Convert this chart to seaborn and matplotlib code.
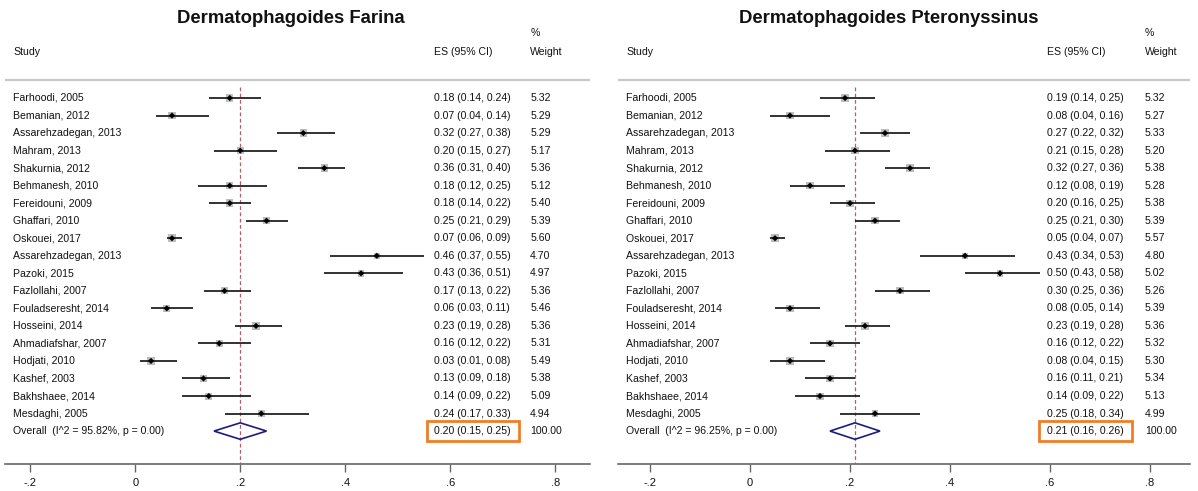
import matplotlib
matplotlib.use("Agg")
import matplotlib.pyplot as plt
import seaborn as sns
import pandas as pd
from matplotlib.patches import Polygon, Rectangle

studies = ["Farhoodi, 2005", "Bemanian, 2012", "Assarehzadegan, 2013", "Mahram, 2013",
           "Shakurnia, 2012", "Behmanesh, 2010", "Fereidouni, 2009", "Ghaffari, 2010",
           "Oskouei, 2017", "Assarehzadegan, 2013", "Pazoki, 2015", "Fazlollahi, 2007",
           "Fouladseresht, 2014", "Hosseini, 2014", "Ahmadiafshar, 2007", "Hodjati, 2010",
           "Kashef, 2003", "Bakhshaee, 2014", "Mesdaghi, 2005"]

far_es = [0.18, 0.07, 0.32, 0.20, 0.36, 0.18, 0.18, 0.25, 0.07, 0.46, 0.43, 0.17, 0.06, 0.23, 0.16, 0.03, 0.13, 0.14, 0.24]
far_lo = [0.14, 0.04, 0.27, 0.15, 0.31, 0.12, 0.14, 0.21, 0.06, 0.37, 0.36, 0.13, 0.03, 0.19, 0.12, 0.01, 0.09, 0.09, 0.17]
far_hi = [0.24, 0.14, 0.38, 0.27, 0.40, 0.25, 0.22, 0.29, 0.09, 0.55, 0.51, 0.22, 0.11, 0.28, 0.22, 0.08, 0.18, 0.22, 0.33]
far_w = [5.32, 5.29, 5.29, 5.17, 5.36, 5.12, 5.40, 5.39, 5.60, 4.70, 4.97, 5.36, 5.46, 5.36, 5.31, 5.49, 5.38, 5.09, 4.94]
far_overall = [0.20, 0.15, 0.25]
far_i2 = "95.82%"

pte_es = [0.19, 0.08, 0.27, 0.21, 0.32, 0.12, 0.20, 0.25, 0.05, 0.43, 0.50, 0.30, 0.08, 0.23, 0.16, 0.08, 0.16, 0.14, 0.25]
pte_lo = [0.14, 0.04, 0.22, 0.15, 0.27, 0.08, 0.16, 0.21, 0.04, 0.34, 0.43, 0.25, 0.05, 0.19, 0.12, 0.04, 0.11, 0.09, 0.18]
pte_hi = [0.25, 0.16, 0.32, 0.28, 0.36, 0.19, 0.25, 0.30, 0.07, 0.53, 0.58, 0.36, 0.14, 0.28, 0.22, 0.15, 0.21, 0.22, 0.34]
pte_w = [5.32, 5.27, 5.33, 5.20, 5.38, 5.28, 5.38, 5.39, 5.57, 4.80, 5.02, 5.26, 5.39, 5.36, 5.32, 5.30, 5.34, 5.13, 4.99]
pte_overall = [0.21, 0.16, 0.26]
pte_i2 = "96.25%"

titles = ["Dermatophagoides Farina", "Dermatophagoides Pteronyssinus"]
tick_vals = [-0.2, 0, 0.2, 0.4, 0.6, 0.8]
tick_labels = ["-.2", "0", ".2", ".4", ".6", ".8"]

sns.set_theme(style="white")
plt.rcParams['font.family'] = ['Liberation Sans', 'DejaVu Sans']

W, H = 1198, 491
fig = plt.figure(figsize=(W / 100, H / 100), dpi=100)

# row geometry (pixels)
Y0, S = 98.0, 17.53
AX_BOT = 464.0
r_top = -Y0 / S
r_bot = (AX_BOT - Y0) / S

panels = [
    dict(px=(5, 590), xlim=(-0.248, 0.866), es=far_es, lo=far_lo, hi=far_hi, w=far_w,
         ov=far_overall, i2=far_i2, title=titles[0], tx=0.297,
         es_x=0.569, w_x=0.752, box=(0.556, 0.731)),
    dict(px=(618, 1190), xlim=(-0.264, 0.88), es=pte_es, lo=pte_lo, hi=pte_hi, w=pte_w,
         ov=pte_overall, i2=pte_i2, title=titles[1], tx=0.278,
         es_x=0.594, w_x=0.790, box=(0.578, 0.764)),
]

FS = 7.6
for p in panels:
    x0, x1 = p["px"]
    ax = fig.add_axes([x0 / W, (H - AX_BOT) / H, (x1 - x0) / W, AX_BOT / H])
    ax.set_xlim(*p["xlim"])
    ax.set_ylim(r_bot, r_top)
    n = len(studies)
    df = pd.DataFrame({"study": studies, "es": p["es"], "lo": p["lo"], "hi": p["hi"],
                       "w": p["w"], "row": list(range(n))})
    xl = p["xlim"][0]
    lab_x = xl + 0.016

    # CI lines
    ax.hlines(df["row"], df["lo"], df["hi"], color="#222222", lw=1.3, zorder=3)
    # weight boxes
    sns.scatterplot(data=df, x="es", y="row", size="w", sizes=(22, 30), marker="s",
                    color="#bdbdbd", edgecolor="none", legend=False, ax=ax, zorder=2)
    sns.scatterplot(data=df, x="es", y="row", marker="D", s=10, color="black",
                    edgecolor="none", legend=False, ax=ax, zorder=4)

    # overall diamond
    es0, lo0, hi0 = p["ov"]
    r = n
    dia = Polygon([(lo0, r), (es0, r - 0.47), (hi0, r), (es0, r + 0.47)], closed=True,
                  fill=False, edgecolor="#1c1c80", lw=1.2, zorder=3)
    ax.add_patch(dia)
    # reference dashed line
    ax.vlines(es0, -0.6, r_bot, color="#b06068", lw=0.9, linestyles=(0, (3, 2)), zorder=1)

    # texts
    for i, row in df.iterrows():
        ax.text(lab_x, i, row["study"], fontsize=FS, va="center", ha="left", color="#111111")
        ax.text(p["es_x"], i, f'{row["es"]:.2f} ({row["lo"]:.2f}, {row["hi"]:.2f})',
                fontsize=FS, va="center", ha="left", color="#111111")
        ax.text(p["w_x"], i, f'{row["w"]:.2f}', fontsize=FS, va="center", ha="left",
                color="#111111")
    ax.text(lab_x, r, f'Overall  (I^2 = {p["i2"]}, p = 0.00)', fontsize=FS, va="center",
            ha="left", color="#111111")
    ax.text(p["es_x"], r, f'{es0:.2f} ({lo0:.2f}, {hi0:.2f})', fontsize=FS, va="center",
            ha="left", color="#111111")
    ax.text(p["w_x"], r, "100.00", fontsize=FS, va="center", ha="left", color="#111111")
    bx0, bx1 = p["box"]
    ax.add_patch(Rectangle((bx0, r - 0.57), bx1 - bx0, 1.14, fill=False,
                           edgecolor="#f07d28", lw=2.0, clip_on=False, zorder=5))

    # header
    ax.text(lab_x, -2.62, "Study", fontsize=FS, va="center", ha="left", color="#111111")
    ax.text(p["es_x"], -2.62, "ES (95% CI)", fontsize=FS, va="center", ha="left", color="#111111")
    ax.text(p["w_x"], -2.62, "Weight", fontsize=FS, va="center", ha="left", color="#111111")
    ax.text(p["w_x"], -3.7, "%", fontsize=FS, va="center", ha="left", color="#111111")
    ax.hlines(-1.0, xl, p["xlim"][1], color="#c8c8c8", lw=1.6)
    ax.text(p["tx"], -4.56, p["title"], fontsize=13.3, fontweight="bold", va="center",
            ha="center", color="#111111")

    # axis
    for s in ["top", "left", "right"]:
        ax.spines[s].set_visible(False)
    ax.spines["bottom"].set_color("#666666")
    ax.spines["bottom"].set_linewidth(1.2)
    ax.set_xticks(tick_vals)
    ax.set_xticklabels(tick_labels, fontsize=8)
    ax.tick_params(axis="x", bottom=True, direction="out", length=6, width=1.0,
                   color="#666666", pad=4, labelcolor="#111111")
    ax.set_yticks([])
    ax.set_xlabel("")
    ax.set_ylabel("")
    ax.patch.set_alpha(0)

fig.savefig("out.png", dpi=100)
